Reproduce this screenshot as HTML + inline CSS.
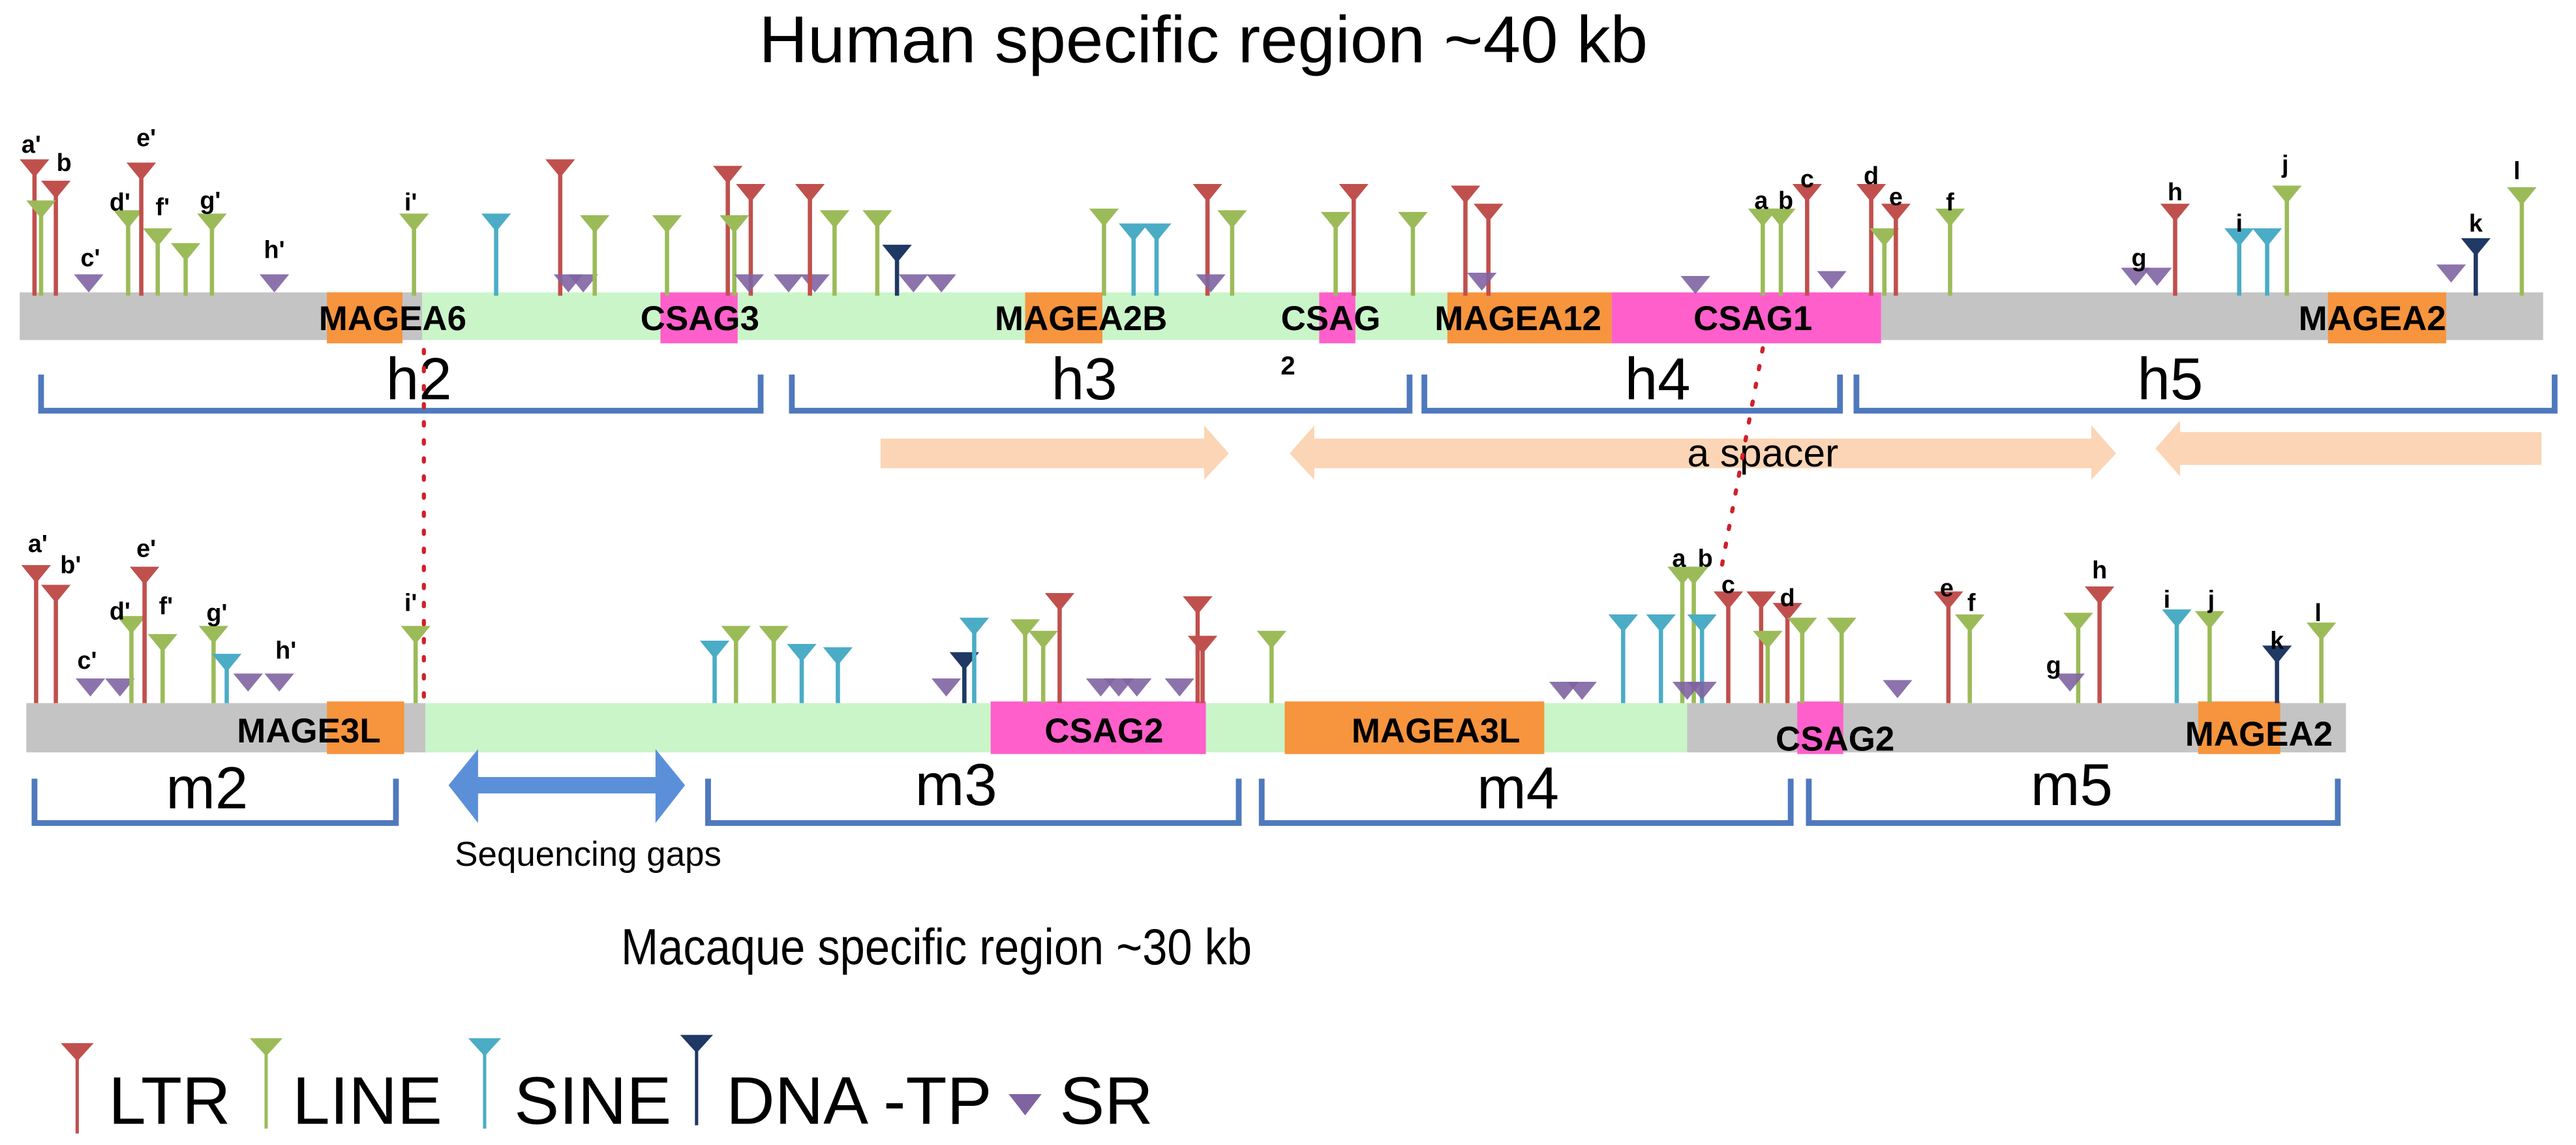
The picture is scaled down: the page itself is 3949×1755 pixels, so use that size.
<!DOCTYPE html>
<html><head><meta charset="utf-8"><style>
html,body{margin:0;padding:0;background:#fff;}
svg{display:block;font-family:"Liberation Sans",sans-serif;}
</style></head><body>
<svg id="fig" xmlns="http://www.w3.org/2000/svg" width="3949" height="1755" viewBox="0 0 1568 697" preserveAspectRatio="none">
<text x="462" y="38" font-size="40" textLength="541" lengthAdjust="spacingAndGlyphs">Human specific region ~40 kb</text>
<text x="378" y="587" font-size="31" textLength="384" lengthAdjust="spacingAndGlyphs">Macaque specific region ~30 kb</text>
<g id="bars"></g>
<g id="pins"></g>
<g id="labels" font-weight="bold" font-size="15" text-anchor="middle"></g>
<g id="genes" font-weight="bold" font-size="21" text-anchor="middle"></g>
<g id="brackets" fill="none" stroke="#4f79bd" stroke-width="3.5"></g>
<g id="regions" font-size="36" text-anchor="middle"></g>
<g fill="#fbd5b5">
<polygon points="536,267 733,267 733,259 748,276 733,292 733,285 536,285"/>
<polygon points="785,276 800,259 800,267 1273,267 1273,259 1288,276 1273,292 1273,285 800,285 800,292"/>
<polygon points="1312,273 1327,256 1327,263 1547,263 1547,283 1327,283 1327,290"/>
</g>
<text x="1073" y="284" font-size="24" text-anchor="middle">a spacer</text>
<g stroke="#d0202a" stroke-width="2.5" stroke-dasharray="2,9" stroke-linecap="round" fill="none">
<line x1="258" y1="213" x2="258" y2="425"/>
<line x1="1073" y1="212" x2="1048" y2="345"/>
</g>
<g>
<polygon fill="#5b8fd8" points="273,478 291,456 291,473 399,473 399,456 417,478 399,501 399,483 291,483 291,501"/>
<text x="358" y="527" font-size="21" text-anchor="middle">Sequencing gaps</text>
</g>
<g>
<path d="M37,635 L57,635 L47,646 Z M46,640 h2 v50 h-2 Z" fill="#c0504d"/>
<text x="66" y="684" font-size="41">LTR</text>
<path d="M152,632 L172,632 L162,643 Z M161,637 h2 v50 h-2 Z" fill="#9bbb59"/>
<text x="178" y="684" font-size="41">LINE</text>
<path d="M285,632 L305,632 L295,643 Z M294,637 h2 v50 h-2 Z" fill="#4bacc6"/>
<text x="313" y="684" font-size="41">SINE</text>
<path d="M414,630 L434,630 L424,641 Z M423,635 h2 v50 h-2 Z" fill="#1f3864"/>
<text x="442" y="684" font-size="41">DNA -TP</text>
<path d="M614,666 L634,666 L624,679 Z" fill="#8064a2"/>
<text x="645" y="684" font-size="41">SR</text>
</g>
</svg>
<script>
// ---- data ----
const humanPos = [9,22,13,42,66,74,84,101,117,155,240,290,329,334,343,350,394,431,435,445,444,468,484,481,496,522,534,544,561,660,678,692,723,725,738,801,812,848,880,894,890,1020,1061,1072,1088,1103,1127,1135,1142,1175,1288,1301,1312,1351,1368,1380,1480,1495,1523];
const humanType = ["L","L","N","R","N","L","N","N","N","R","N","S","L","R","R","N","N","L","N","L","R","R","R","L","N","N","D","R","R","N","S","S","L","R","N","N","L","N","L","L","R","R","N","N","L","R","L","N","L","N","R","R","L","S","S","N","R","D","N"];
const humanHeight = [83,70,58,13,52,81,41,32,50,13,50,50,83,13,13,49,49,79,49,68,13,13,13,68,52,52,31,13,13,53,44,44,68,13,52,51,68,51,67,56,14,12,53,53,68,15,68,41,56,53,17,17,56,41,41,67,19,35,66];
const macaquePos = [10,22,43,61,68,76,87,118,126,139,158,241,423,436,459,476,498,564,575,581,612,623,633,658,669,680,706,717,720,762,940,951,976,999,1012,1019,1024,1015,1024,1040,1060,1064,1076,1085,1109,1143,1174,1187,1253,1248,1266,1313,1333,1374,1401];
const macaqueType = ["L","L","R","R","N","L","N","N","S","R","R","N","S","N","N","S","S","R","D","S","N","N","L","R","R","R","R","L","L","N","R","R","S","S","N","N","S","R","R","L","L","N","L","N","N","R","L","N","N","R","L","S","N","D","N"];
const macaqueHeight = [84,72,15,15,53,83,42,47,30,18,18,47,38,47,47,36,34,15,31,52,51,44,67,15,15,15,15,65,41,44,13,13,54,54,83,83,54,13,13,68,68,44,61,52,52,14,68,54,55,18,71,57,56,35,49];
const humanLabels = ["a'","b","c'","d'","e'","f'","g'","h'","i'","a","b","c","d","e","f","g","h","i","j","k","l"];
const humanLabelPos = [7,27,43,61,77,87,116,155,238,1060,1075,1088,1127,1142,1175,1290,1312,1351,1379,1495,1520];
const humanLabelHeight = [92,81,23,57,96,54,58,28,57,58,58,71,73,60,57,23,63,44,80,44,76];
const macaqueLabels = ["a'","b'","c'","d'","e'","f'","g'","h'","i'","a","b","c","d","e","f","g","h","i","j","k","l"];
const macaqueLabelPos = [11,31,41,61,77,89,120,162,238,1010,1026,1040,1076,1173,1188,1238,1266,1307,1334,1374,1399];
const macaqueLabelHeight = [97,84,26,56,94,59,55,32,61,88,88,72,64,70,61,23,81,63,63,38,55];
// ---- scales ----
const X0 = 12;
const xScale = p => X0 + p;
const HUMAN_BASE = 180, MAC_BASE = 428;
const colors = {L:"#c0504d",N:"#9bbb59",S:"#4bacc6",D:"#1f3864",R:"#8064a2"};
const typeNames = {L:"ltr",N:"line",S:"sine",D:"dna-tp",R:"sr"};
const NS = "http://www.w3.org/2000/svg";
function mk(tag, attrs, parent){const e=document.createElementNS(NS,tag);for(const k in attrs)e.setAttribute(k,attrs[k]);parent.appendChild(e);return e;}

// bars
const bars = document.getElementById('bars');
const segs = [
 ["human-bar-gray-left",12,257,178,207,"#c4c4c4"],["human-bar-green",257,881,178,207,"#c9f5c9"],["human-bar-gray-right",1145,1548,178,207,"#c4c4c4"],
 ["gene-magea6-box",199,245,178,209,"#f7943e"],["gene-csag3-box",402,449,178,209,"#ff5fcb"],["gene-magea2b-box",624,671,178,209,"#f7943e"],
 ["gene-csag2-box-h",803,825,178,209,"#ff5fcb"],["gene-magea12-box",881,981,178,209,"#f7943e"],["gene-csag1-box",981,1145,178,209,"#ff5fcb"],["gene-magea2-box-h",1417,1489,178,209,"#f7943e"],
 ["macaque-bar-gray-left",16,259,428,458,"#c4c4c4"],["macaque-bar-green",259,1027,428,458,"#c9f5c9"],["macaque-bar-gray-right",1027,1428,428,458,"#c4c4c4"],
 ["gene-mage3l-box",199,246,427,459,"#f7943e"],["gene-csag2-box-m1",603,734,427,459,"#ff5fcb"],["gene-magea3l-box",782,940,427,459,"#f7943e"],
 ["gene-csag2-box-m2",1094,1122,427,459,"#ff5fcb"],["gene-magea2-box-m",1338,1388,427,459,"#f7943e"]
];
segs.forEach(s=>{
  const r=mk('rect',{x:s[1],y:s[3],width:s[2]-s[1],height:s[4]-s[3],fill:s[5]},bars);
  
  
});

// pins
const pins = document.getElementById('pins');
function drawPins(pos, type, height, base, prefix){
  for(let i=0;i<pos.length;i++){
    const x = xScale(pos[i]);
    const top = base - height[i];
    const c = colors[type[i]];
    const g = mk('g',{},pins);
    
    
    if(type[i]==="R"){
      mk('polygon',{points:(x-9)+","+top+" "+(x+9)+","+top+" "+x+","+(top+11),fill:c,opacity:0.9},g);
    } else {
      mk('rect',{x:x-1.3,y:top+5,width:2.6,height:base-top-5,fill:c},g);
      mk('polygon',{points:(x-9)+","+top+" "+(x+9)+","+top+" "+x+","+(top+11),fill:c},g);
    }
  }
}
drawPins(humanPos, humanType, humanHeight, HUMAN_BASE, 'human');
drawPins(macaquePos, macaqueType, macaqueHeight, MAC_BASE, 'macaque');

// pin labels
const labels = document.getElementById('labels');
function drawLabels(txt, pos, h, base, prefix){
  for(let i=0;i<txt.length;i++){
    const t = mk('text',{x:xScale(pos[i]),y:base-h[i]+5},labels);
    t.textContent = txt[i];
    
    
  }
}
drawLabels(humanLabels, humanLabelPos, humanLabelHeight, HUMAN_BASE, 'human');
drawLabels(macaqueLabels, macaqueLabelPos, macaqueLabelHeight, MAC_BASE, 'macaque');

// gene names
const genes = document.getElementById('genes');
const geneText = [["MAGEA6",239,201],["CSAG3",426,201],["MAGEA2B",658,201],["CSAG",810,201],["MAGEA12",924,201],["CSAG1",1067,201],["MAGEA2",1444,201],
 ["MAGE3L",188,452],["CSAG2",672,452],["MAGEA3L",874,452],["CSAG2",1117,457],["MAGEA2",1375,454]];
geneText.forEach((g,i)=>{
  const t=mk('text',{x:g[1],y:g[2]},genes);
  t.textContent=g[0];
  
  
});
const two = mk('text',{x:784,y:228,'font-size':16},genes);
two.textContent="2";



// brackets and region names
const br = document.getElementById('brackets');
const rg = document.getElementById('regions');
const brackets = [["h2",25,463,228,250,255,243],["h3",482,858,228,250,660,243],["h4",867,1120,228,250,1009,243],["h5",1130,1555,228,250,1321,243],
 ["m2",21,241,474,501,126,492],["m3",431,754,474,501,582,490],["m4",768,1090,474,501,924,492],["m5",1101,1423,474,501,1261,490]];
brackets.forEach(b=>{
  const p=mk('path',{d:"M"+b[1]+","+b[3]+" L"+b[1]+","+b[4]+" L"+b[2]+","+b[4]+" L"+b[2]+","+b[3]},br);
  
  
  const t=mk('text',{x:b[5],y:b[6]},rg);
  t.textContent=b[0];
  
  
});
</script>
</body></html>
